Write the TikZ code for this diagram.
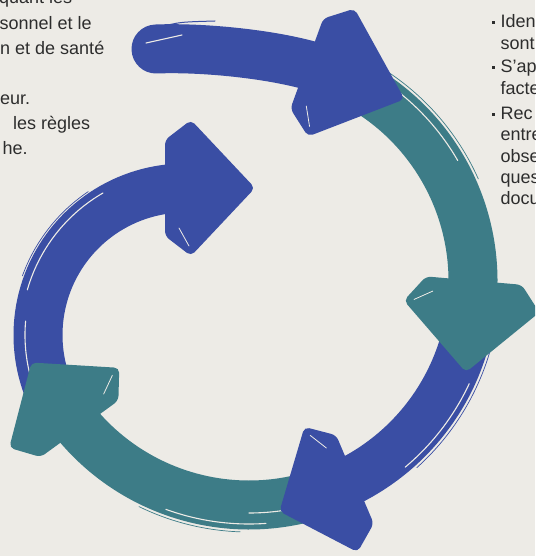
\documentclass[tikz,border=0pt]{standalone}
\usepackage{fontspec}
\setmainfont{Liberation Sans}
\definecolor{paper}{RGB}{237,235,230}
\definecolor{brushblue}{RGB}{58,78,164}
\definecolor{brushteal}{RGB}{61,124,135}
\definecolor{ink}{RGB}{45,45,45}
\tikzstyle{bluebrush}=[draw=brushblue,line width=49pt]
\tikzstyle{tealbrush}=[draw=brushteal,line width=49pt]
\tikzstyle{streak}=[draw=paper,line width=1.1pt,line cap=round]
\tikzstyle{hair}=[line width=0.7pt,line cap=round]
\tikzstyle{txt}=[inner sep=0pt,anchor=base west,text=ink,font=\fontsize{18}{21}\selectfont]
\tikzstyle{sq}=[fill=ink,minimum size=3pt,inner sep=0pt]
% head of a brush arrow: colour, centre, angle, radius, length
\newcommand{\brushhead}[5]{%
  \fill[#1,rounded corners=5pt]
    ([shift={(#2)},shift={({#3-90}:20)}]#3:{#4+48}) --
    ([shift={(#2)},shift={({#3+90}:6)}]#3:{#4+68}) --
    ([shift={(#2)},shift={({#3+90}:#5)}]#3:#4) --
    ([shift={(#2)},shift={({#3+90}:6)}]#3:{#4-68}) --
    ([shift={(#2)},shift={({#3-90}:20)}]#3:{#4-48}) -- cycle;
  \draw[streak,line width=0.8pt]
    ([shift={(#2)},shift={({#3-90}:6)}]#3:{#4-40}) --
    ([shift={(#2)},shift={({#3+90}:4)}]#3:{#4-58});}

\begin{document}
\begin{tikzpicture}[x=1pt,y=-1pt]
\clip (0,0) rectangle (535,556);
\fill[paper] (0,0) rectangle (535,556);
\coordinate (c) at (249,281);
\coordinate (d) at (185,335);

% inner arrow on the left
\draw[bluebrush] ([shift={(d)}]158:147) arc[start angle=158,end angle=270,radius=147];
\draw[streak] ([shift={(d)}]196:164) arc[start angle=196,end angle=240,radius=164];
\draw[streak] ([shift={(d)}]165:160) arc[start angle=165,end angle=185,radius=160];
\draw[hair,brushblue] ([shift={(d)}]200:173) arc[start angle=200,end angle=236,radius=173];
\brushhead{brushblue}{d}{270}{147}{70}

% bottom arrow
\draw[tealbrush] ([shift={(c)}]73.5:224) arc[start angle=73.5,end angle=144,radius=224];
\draw[streak] ([shift={(c)}]86:243) arc[start angle=86,end angle=110,radius=243];
\draw[streak] ([shift={(c)}]78:232) arc[start angle=78,end angle=90,radius=232];
\draw[hair,brushteal] ([shift={(c)}]92:251) arc[start angle=92,end angle=116,radius=251];
\brushhead{brushteal}{c}{144}{224}{62}

% lower right arrow
\draw[bluebrush] ([shift={(c)}]11.5:224) arc[start angle=11.5,end angle=67,radius=224];
\draw[streak] ([shift={(c)}]25:243) arc[start angle=25,end angle=50,radius=243];
\draw[hair,brushblue] ([shift={(c)}]15:251) arc[start angle=15,end angle=48,radius=251];
\brushhead{brushblue}{c}{67}{224}{62}

% right arrow
\draw[tealbrush] ([shift={(c)}]296:224) arc[start angle=296,end angle=365,radius=224];
\draw[streak] ([shift={(c)}]300:241) arc[start angle=300,end angle=330,radius=241];
\draw[hair,brushteal] ([shift={(c)}]300:251) arc[start angle=300,end angle=336,radius=251];
\brushhead{brushteal}{c}{5}{224}{72}

% top arrow
\draw[bluebrush,line cap=round] (156,49) .. controls (205,47) and (283,55) .. ([shift={(c)}]290:224);
\draw[streak] (146,43) -- (182,35);
\draw[hair,brushblue,line width=1pt] (160,27) .. controls (180,22) .. (215,21);
\brushhead{brushblue}{c}{290}{224}{84}

% text on the left
\node[txt] (q1) at (-1,4) {quant les};
\node[txt] (q2) at (-0.5,29.5) {sonnel et le};
\node[txt] (q3) at (0,54.5) {n et de santé};
\node[txt] (q4) at (0,105) {eur.};
\node[txt] (q5) at (13,130) {les règles};
\node[txt] (q6) at (2.5,155) {he.};

% text on the right
\node[sq] (b1) at (493.5,23) {};
\node[txt] (r1) at (500.5,28) {Iden};
\node[txt] (r2) at (500.5,50) {sont};
\node[sq] (b2) at (493.5,68) {};
\node[txt] (r3) at (500.5,73) {S’ap};
\node[txt] (r4) at (500.5,95) {facte};
\node[sq] (b3) at (493.5,115) {};
\node[txt] (r5) at (500.5,120) {Rec};
\node[txt] (r6) at (500.5,141) {entre};
\node[txt] (r7) at (500.5,162) {obse};
\node[txt] (r8) at (500.5,183) {ques};
\node[txt] (r9) at (500.5,204) {docu};
\end{tikzpicture}
\end{document}
